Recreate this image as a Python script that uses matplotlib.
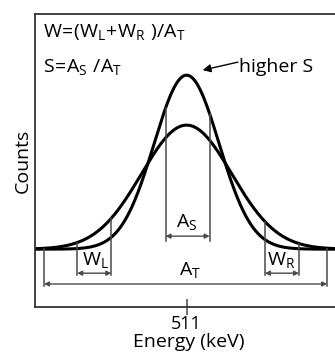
"""
Doppler broadening S / W parameter schematic
"""
import numpy as np
import matplotlib
matplotlib.use('Agg')
import matplotlib.pyplot as plt

plt.rcParams['font.family'] = ['Open Sans', 'DejaVu Sans']
plt.rcParams['mathtext.default'] = 'regular'

# ---- data (keV / normalised counts) ----
center = 511.0
peak_heights = [1.0, 0.713]        # narrow (higher S), wide
peak_sigmas = [1.62, 2.25]
window_as = [509.95, 512.15]
window_wl = [505.55, 507.25]
window_wr = [514.9, 516.6]
window_at = [503.9, 518.0]
xlim = (503.45, 518.8)
ylim = (-0.333, 1.351)


def peak(x, h, s):
    return h * np.exp(-(x - center) ** 2 / (2 * s ** 2))


def upper(x):
    return max(peak(x, h, s) for h, s in zip(peak_heights, peak_sigmas))


fig = plt.figure(figsize=(3.35, 3.53), dpi=100)
ax = fig.add_axes([0.1045, 0.130, 0.92, 0.830])

x = np.linspace(xlim[0], xlim[1], 600)
for h, s in zip(peak_heights, peak_sigmas):
    ax.plot(x, peak(x, h, s), color='black', linewidth=2.2, solid_capstyle='round')

gray = '#4a4a4a'
arrow = dict(arrowstyle='<|-|>', color=gray, lw=1.0, mutation_scale=7,
             shrinkA=0, shrinkB=0)


def window(xs, y_arrow, y_bottom, top_zero=False):
    for xv in xs:
        y_top = 0.0 if top_zero else upper(xv)
        ax.plot([xv, xv], [y_bottom, y_top], color=gray, linewidth=1.1)
    ax.annotate('', xy=(xs[0], y_arrow), xytext=(xs[1], y_arrow), arrowprops=arrow)


window(window_as, 0.075, 0.046)
window(window_wl, -0.138, -0.147)
window(window_wr, -0.138, -0.147)
window(window_at, -0.200, -0.213, top_zero=True)

fs = 14
ax.text(511.0, 0.126, r'$A_S$', ha='center', va='baseline', fontsize=fs)
ax.text(506.45, -0.092, r'$W_L$', ha='center', va='baseline', fontsize=fs)
ax.text(515.7, -0.092, r'$W_R$', ha='center', va='baseline', fontsize=fs)
ax.text(511.15, -0.149, r'$A_T$', ha='center', va='baseline', fontsize=fs)

ax.text(503.85, 1.218, r'$W\!=\!(W_L\!+\!W_R\ )/A_T$', ha='left', va='baseline', fontsize=fs)
ax.text(503.85, 1.017, r'$S\!=\!A_S\ /A_T$', ha='left', va='baseline', fontsize=fs)
ax.text(513.6, 1.017, 'higher S', ha='left', va='baseline', fontsize=fs)
ax.annotate('', xy=(511.8, 1.029), xytext=(513.55, 1.075),
            arrowprops=dict(arrowstyle='-|>', color='black', lw=1.0,
                            mutation_scale=12, shrinkA=0, shrinkB=0))

ax.set_xlim(*xlim)
ax.set_ylim(*ylim)
ax.set_xticks([center])
ax.set_xticklabels(['511'])
ax.set_yticks([])
ax.tick_params(axis='x', direction='inout', length=11, width=1.1, color=gray,
               labelsize=13, pad=0)
ax.set_xlabel('Energy (keV)', fontsize=14, labelpad=0)
ax.set_ylabel('Counts', fontsize=14, labelpad=2)
for side in ['left', 'top', 'bottom']:
    ax.spines[side].set_color('#333333')
    ax.spines[side].set_linewidth(1.3)
ax.spines['right'].set_visible(False)

plt.savefig('out.png', dpi=100)
plt.close()
